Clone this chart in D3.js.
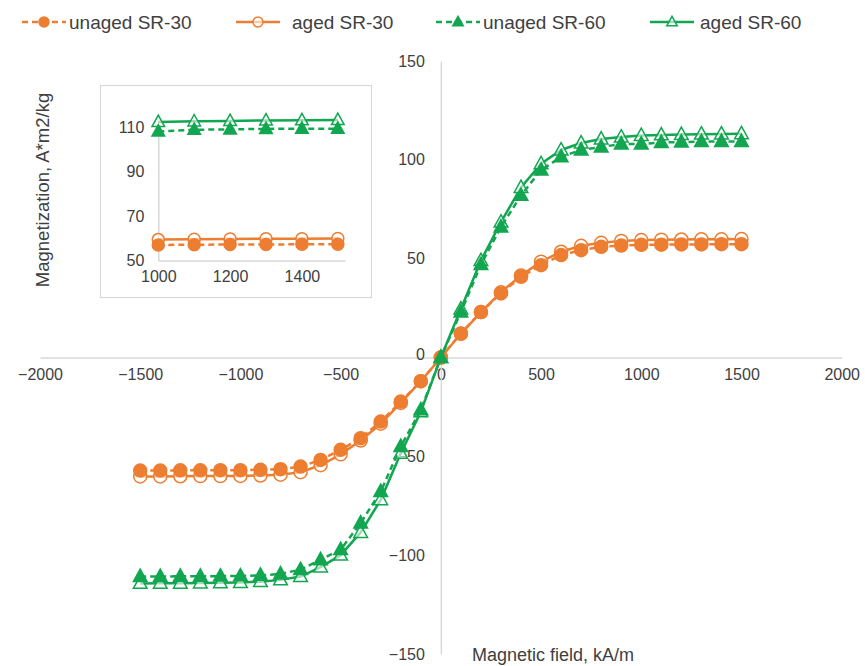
<!DOCTYPE html>
<html lang="en">
<head>
<meta charset="utf-8">
<title>Magnetization curves</title>
<script src="https://d3js.org/d3.v7.min.js"></script>
<style>
    body { margin: 0; background: #fff; }
    text { font-family: "Liberation Sans", Arial, sans-serif; fill: #404040; }
    .axis line, .axis path { stroke: #d9d9d9; stroke-width: 1.5; }
</style>
</head>
<body>
<div id="chart"></div>
<script>
// field steps (kA/m)
const field = [-1500, -1400, -1300, -1200, -1100, -1000, -900, -800, -700, -600, -500, -400, -300, -200, -100,
    0, 100, 200, 300, 400, 500, 600, 700, 800, 900, 1000, 1100, 1200, 1300, 1400, 1500];

// magnetization values (A*m2/kg)
const unagedSR30 = [-57.2, -57.2, -57.1, -57.1, -57, -57, -56.8, -56.5, -55.2, -51.8, -46.7, -40.8, -32.4, -22.3, -12,
    0, 12.2, 23, 32.4, 40.8, 46.7, 51.8, 54.3, 56, 56.6, 57, 57.1, 57.2, 57.2, 57.3, 57.3];
const agedSR30 = [-60.2, -60.2, -60.1, -60, -60, -59.9, -59.7, -59.3, -58, -54.5, -49, -42, -33.5, -23, -12,
    0, 12, 23, 33, 41.5, 48.5, 53.5, 56.5, 58, 59, 59.4, 59.6, 59.7, 59.8, 59.8, 59.9];
const unagedSR60 = [-110.8, -110.8, -110.7, -110.7, -110.6, -110.5, -110.2, -109.5, -107.3, -102.3, -97.2, -83.7, -67.8, -45, -26.5,
    0, 23, 47, 66, 82, 94.8, 101.5, 105, 106.5, 108, 108, 108.8, 109, 109.2, 109.3, 109.3];
const agedSR60 = [-114.3, -114.2, -114.2, -114.1, -114, -113.8, -113.4, -112.5, -110.8, -106, -100, -88.5, -72, -48.5, -27.5,
    0, 24.5, 49, 68.5, 86, 98, 105, 108.5, 110.5, 111.5, 112.3, 112.6, 112.8, 113, 113.1, 113.2];

const seriesNames = ["unaged SR-30", "aged SR-30", "unaged SR-60", "aged SR-60"];
const xTicks = [-2000, -1500, -1000, -500, 0, 500, 1000, 1500, 2000];
const yTicks = [-150, -100, -50, 0, 50, 100, 150];
const insetXTicks = [1000, 1200, 1400];
const insetYTicks = [50, 70, 90, 110];

const orange = "#ed7d31", green = "#13a651";
const series = [
    {name: seriesNames[0], values: unagedSR30, color: orange, dash: "6,4", marker: "circle", filled: true},
    {name: seriesNames[1], values: agedSR30, color: orange, dash: null, marker: "circle", filled: false},
    {name: seriesNames[2], values: unagedSR60, color: green, dash: "6,4", marker: "triangle", filled: true},
    {name: seriesNames[3], values: agedSR60, color: green, dash: null, marker: "triangle", filled: false}
];

const width = 865, height = 666;
const svg = d3.select("#chart").append("svg")
    .attr("width", width).attr("height", height);
svg.append("rect").attr("width", width).attr("height", height).attr("fill", "#fff");

const x = d3.scaleLinear().domain([-2000, 2000]).range([40, 841.7]);
const y = d3.scaleLinear().domain([-150, 150]).range([654, 61]);

const fmt = d => (d < 0 ? "\u2212" : "") + Math.abs(d);

// axes crossing at zero
const xAxis = svg.append("g").attr("class", "axis")
    .attr("transform", "translate(0," + y(0) + ")")
    .call(d3.axisBottom(x).tickValues(xTicks).tickSize(0).tickFormat(fmt).tickPadding(11));
const yAxis = svg.append("g").attr("class", "axis")
    .attr("transform", "translate(" + x(0) + ",0)")
    .call(d3.axisLeft(y).tickValues(yTicks).tickSize(0).tickFormat(fmt).tickPadding(16));
svg.selectAll(".axis text").style("font-size", "16px").attr("fill", "#404040");
yAxis.selectAll("text").filter(d => d === 0).attr("dy", "0.1em");

// axis titles
svg.append("text")
    .attr("transform", "translate(49,190) rotate(-90)")
    .attr("text-anchor", "middle")
    .style("font-size", "18.5px")
    .text("Magnetization, A*m2/kg");
svg.append("text")
    .attr("x", 472).attr("y", 661)
    .style("font-size", "18px")
    .text("Magnetic field, kA/m");

function drawMarker(g, s, cx, cy, r) {
    if (s.marker === "circle") {
        g.append("circle").attr("cx", cx).attr("cy", cy).attr("r", r)
            .attr("fill", s.filled ? s.color : "#fff")
            .attr("fill-opacity", s.filled ? 1 : 0.6)
            .attr("stroke", s.color).attr("stroke-width", 1.5);
    } else {
        const h = r * 1.9;
        g.append("path")
            .attr("d", `M${cx},${cy - h * 0.6}L${cx + r * 1.05},${cy + h * 0.4}L${cx - r * 1.05},${cy + h * 0.4}Z`)
            .attr("fill", s.filled ? s.color : "#fff")
            .attr("fill-opacity", s.filled ? 1 : 0.6)
            .attr("stroke", s.color).attr("stroke-width", 1.5);
    }
}

function drawSeries(g, xs, ys, xvals, s, r) {
    const pts = xvals.map((v, i) => [v, s.values[field.indexOf(v)]]);
    const line = d3.line().x(d => xs(d[0])).y(d => ys(d[1]));
    g.append("path").datum(pts)
        .attr("d", line)
        .attr("fill", "none")
        .attr("stroke", s.color)
        .attr("stroke-width", 2.5)
        .attr("stroke-dasharray", s.dash);
    pts.forEach(p => drawMarker(g, s, xs(p[0]), ys(p[1]), r));
}

const plot = svg.append("g");
// aged first, unaged over it
[series[1], series[0], series[3], series[2]].forEach(s => drawSeries(plot, x, y, field, s, 6.5));

// inset
const inset = svg.append("g");
inset.append("rect")
    .attr("x", 100.5).attr("y", 85.5).attr("width", 271).attr("height", 212)
    .attr("fill", "#fff").attr("stroke", "#d9d9d9").attr("stroke-width", 1.2);
const ix = d3.scaleLinear().domain([1000, 1520]).range([158.3, 345]);
const iy = d3.scaleLinear().domain([50, 115]).range([260.5, 116]);
const insetField = field.filter(v => v >= 1000);

const ixAxis = inset.append("g").attr("class", "axis")
    .attr("transform", "translate(0," + iy(50) + ")")
    .call(d3.axisBottom(ix).tickValues(insetXTicks).tickSize(0).tickFormat(d3.format("d")).tickPadding(10));
const iyAxis = inset.append("g").attr("class", "axis")
    .attr("transform", "translate(" + ix(1000) + ",0)")
    .call(d3.axisLeft(iy).tickValues(insetYTicks).tickSize(0).tickPadding(14));
inset.selectAll(".axis text").style("font-size", "16px").attr("fill", "#404040");
[series[1], series[0], series[3], series[2]].forEach(s => drawSeries(inset, ix, iy, insetField, s, 6));

// legend
const legendPos = [[22, 69], [236, 292], [436, 483], [650, 700]];
const legend = svg.append("g");
series.forEach((s, i) => {
    const [x0, tx] = legendPos[i];
    legend.append("line")
        .attr("x1", x0).attr("x2", x0 + 44).attr("y1", 22).attr("y2", 22)
        .attr("stroke", s.color).attr("stroke-width", 2.5)
        .attr("stroke-dasharray", s.dash);
    drawMarker(legend, s, x0 + 22, 22, 5);
    legend.append("text")
        .attr("x", tx).attr("y", 22).attr("dy", "0.35em")
        .style("font-size", "19px")
        .text(s.name);
});
</script>
</body>
</html>
